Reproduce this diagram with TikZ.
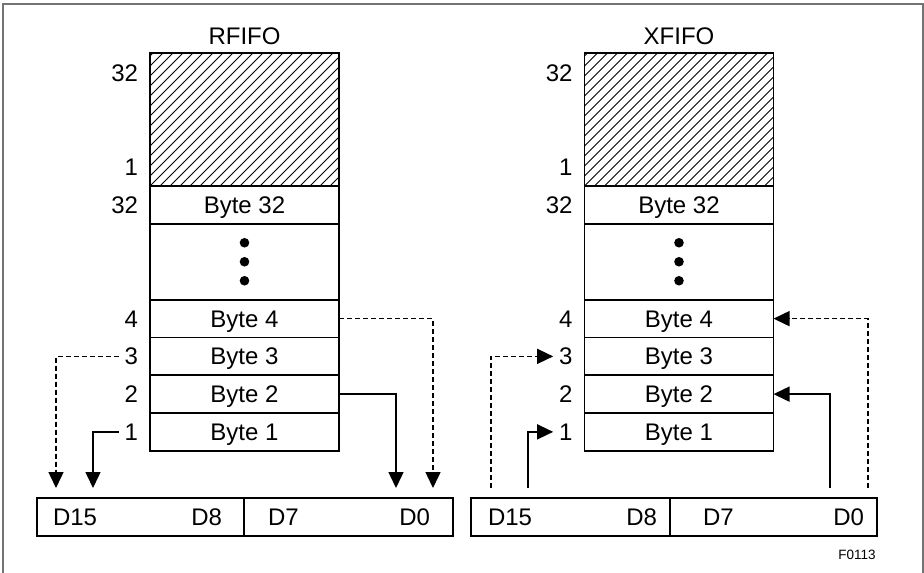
\documentclass[tikz,border=0pt]{standalone}
\usepackage{fontspec}
\setmainfont{Liberation Sans}
\usetikzlibrary{calc}
\usetikzlibrary{positioning}
\usetikzlibrary{arrows.meta}

\tikzset{
  txt/.style   = {inner sep=0pt, outer sep=0pt, font=\fontsize{24}{28}\selectfont, text height=17pt, text depth=0pt},
  cell/.style  = {txt, draw, line width=1.8pt, minimum width=189pt, minimum height=37.75pt},
  hatch/.style = {path picture={
      \foreach \i in {-14,...,19}
        \draw[line width=1pt] ($(path picture bounding box.south west)+(\i*10pt,0pt)$) -- ++(140pt,140pt);}},
  num/.style   = {txt, inner xsep=6pt},
  reg/.style   = {draw, line width=1.8pt, minimum height=38pt, inner sep=0pt, outer sep=0pt},
  sig/.style   = {line width=1.5pt, -{Triangle[length=16pt,width=15pt]}},
  dashsig/.style = {sig, dash pattern=on 5pt off 3pt},
  frame/.style = {draw=black!55, line width=2pt}
}

\begin{document}
\begin{tikzpicture}[x=1pt,y=-1pt]
  \useasboundingbox (0,0) rectangle (924,573);
  \draw[frame] (3,590) |- (923,4) -- (923,590);

  \foreach \f/\cx/\name in {r/244.5/RFIFO, x/679/XFIFO}{
    \node[cell, hatch, minimum height=133pt] (\f hat) at (\cx,119.5) {};
    \node[txt, above=9pt of \f hat] (\f title) {\name};
    \node[cell, below=0pt of \f hat] (\f 32) {Byte 32};
    \node[cell, minimum height=76pt, below=0pt of \f 32] (\f dots) {};
    \foreach \d in {-19,0,19}
      \fill ($(\f dots.center)+(0,\d)$) circle (4.8pt);
    \node[cell, below=0pt of \f dots] (\f 4) {Byte 4};
    \node[cell, below=0pt of \f 4] (\f 3) {Byte 3};
    \node[cell, below=0pt of \f 3] (\f 2) {Byte 2};
    \node[cell, below=0pt of \f 2] (\f 1) {Byte 1};

    \node[num, left=6pt of \f hat.north west, yshift=-20pt] (\f n32top) {32};
    \node[num, left=6pt of \f hat.south west, yshift=19pt] (\f n1top) {1};
    \node[num, left=6pt of \f 32] (\f n32) {32};
    \node[num, left=6pt of \f 4] (\f n4) {4};
    \node[num, left=6pt of \f 3] (\f n3) {3};
    \node[num, left=6pt of \f 2] (\f n2) {2};
    \node[num, left=6pt of \f 1] (\f n1) {1};
  }

  \node[reg, minimum width=207pt] (rh) at (140.5,517) {};
  \node[reg, minimum width=209pt] (rl) at (348.5,517) {};
  \node[txt, right=16pt of rh.west] (rd15) {D15};
  \node[txt, left=22pt of rh.east] (rd8) {D8};
  \node[txt, right=24pt of rl.west] (rd7) {D7};
  \node[txt, left=23pt of rl.east] (rd0) {D0};

  \node[reg, minimum width=199pt] (xh) at (570.5,517) {};
  \node[reg, minimum width=207pt] (xl) at (773.5,517) {};
  \node[txt, right=17pt of xh.west] (xd15) {D15};
  \node[txt, left=13pt of xh.east] (xd8) {D8};
  \node[txt, right=33pt of xl.west] (xd7) {D7};
  \node[txt, left=13pt of xl.east] (xd0) {D0};

  \coordinate (ra) at ($(rh.north west)+(19,-10)$);
  \coordinate (rb) at ($(rh.north west)+(56,-10)$);
  \coordinate (rc) at ($(rl.north east)+(-57,-10)$);
  \coordinate (rd) at ($(rl.north east)+(-20,-10)$);
  \coordinate (xa) at ($(xh.north west)+(20,-10)$);
  \coordinate (xb) at ($(xh.north west)+(57,-10)$);
  \coordinate (xc) at ($(xl.north east)+(-47,-10)$);
  \coordinate (xd) at ($(xl.north east)+(-9,-10)$);

  \draw[dashsig] (rn3.west) -| (ra);
  \draw[sig] (rn1.west) -| (rb);
  \draw[sig] (r2.east) -| (rc);
  \draw[dashsig] (r4.east) -| (rd);

  \draw[dashsig] (xa) |- (xn3.west);
  \draw[sig] (xb) |- (xn1.west);
  \draw[sig] (xc) |- (x2.east);
  \draw[dashsig] (xd) |- (x4.east);

  \node[font=\fontsize{13.5}{16}\selectfont] (fig) at (857,555) {F0113};
\end{tikzpicture}
\end{document}
